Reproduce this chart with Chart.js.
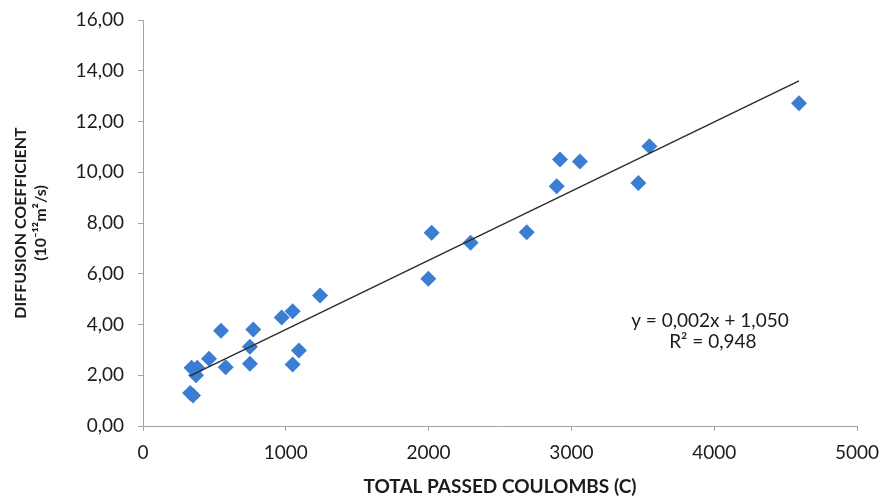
<!DOCTYPE html>
<html>
<head>
<meta charset="utf-8">
<script src="https://cdn.jsdelivr.net/npm/chart.js@4/dist/chart.umd.min.js"></script>
<style>
  html, body { margin: 0; padding: 0; background: #fff; }
  #wrap { width: 883px; height: 500px; position: relative; }
</style>
</head>
<body>
<div id="wrap"><canvas id="c" width="883" height="500"></canvas></div>
<script>
// Total passed charge (C) and measured diffusion coefficient (10^-12 m2/s)
const coulombs = [330, 350, 340, 380, 371, 462, 546, 579, 749, 749, 772, 971, 1048, 1048, 1092, 1240,
                  1998, 2021, 2294, 2687, 2897, 2920, 3060, 3469, 3546, 4594];
const diffusion = [1.30, 1.20, 2.30, 2.30, 2.00, 2.65, 3.75, 2.32, 3.12, 2.45, 3.80, 4.28, 4.52, 2.42, 2.98, 5.14,
                   5.80, 7.62, 7.22, 7.64, 9.45, 10.50, 10.42, 9.58, 11.02, 12.72];
const xTicks = [0, 1000, 2000, 3000, 4000, 5000];
const yTicks = [0, 2, 4, 6, 8, 10, 12, 14, 16];
const equationLines = ['y = 0,002x + 1,050', 'R² = 0,948'];

// least-squares line through the measurements
const n = coulombs.length;
const mx = coulombs.reduce((a, b) => a + b, 0) / n;
const my = diffusion.reduce((a, b) => a + b, 0) / n;
let sxy = 0, sxx = 0;
for (let i = 0; i < n; i++) { sxy += (coulombs[i] - mx) * (diffusion[i] - my); sxx += (coulombs[i] - mx) ** 2; }
const slope = sxy / sxx, icpt = my - slope * mx;
const xMin = Math.min(...coulombs), xMax = Math.max(...coulombs);
const trend = [{ x: xMin, y: icpt + slope * xMin }, { x: xMax, y: icpt + slope * xMax }];

const points = coulombs.map((x, i) => ({ x, y: diffusion[i] }));
const FONT = 'Lato, "Open Sans", sans-serif';
const INK = '#1c1c1c';
const AXIS = '#a3a3a3';

const equationLabel = {
  id: 'equationLabel',
  afterDatasetsDraw(chart) {
    const { ctx, chartArea: a } = chart;
    ctx.save();
    ctx.fillStyle = INK;
    ctx.font = '19px ' + FONT;
    ctx.textAlign = 'center';
    ctx.textBaseline = 'middle';
    const cx = a.left + (a.right - a.left) * 0.794;
    const cy = a.top + (a.bottom - a.top) * 0.74;
    ctx.fillText(equationLines[0], cx, cy);
    ctx.fillText(equationLines[1], cx + 3, cy + 21);
    ctx.restore();
  }
};

new Chart(document.getElementById('c'), {
  type: 'scatter',
  data: {
    datasets: [
      {
        data: points,
        pointStyle: 'rectRot',
        pointRadius: 8,
        pointHoverRadius: 8,
        backgroundColor: '#3b7dd2',
        borderColor: '#3b7dd2',
        borderWidth: 0,
        order: 2
      },
      {
        type: 'line',
        data: trend,
        borderColor: '#2b2b2b',
        borderWidth: 1.4,
        pointRadius: 0,
        fill: false,
        order: 1
      }
    ]
  },
  options: {
    responsive: false,
    animation: false,
    layout: { padding: { left: 8, right: 26, top: 20, bottom: 0 } },
    plugins: { legend: { display: false }, tooltip: { enabled: false } },
    scales: {
      x: {
        type: 'linear',
        min: 0, max: 5000,
        afterBuildTicks: s => { s.ticks = xTicks.map(v => ({ value: v })); },
        afterFit: s => { s.height = 74; s.paddingRight = 0; },
        ticks: {
          font: { family: FONT, size: 19 }, color: INK, padding: 10, maxRotation: 0,
          callback: v => String(v)
        },
        grid: { drawOnChartArea: false, tickLength: 5, color: AXIS },
        border: { display: true, color: AXIS, width: 1 },
        title: {
          display: true,
          text: 'TOTAL PASSED COULOMBS (C)',
          font: { family: FONT, size: 19, weight: 'bold' },
          color: INK,
          padding: { top: 0, bottom: 2 }
        }
      },
      y: {
        type: 'linear',
        min: 0, max: 16,
        afterBuildTicks: s => { s.ticks = yTicks.map(v => ({ value: v })); },
        afterFit: s => { s.width = 135; s.paddingTop = 0; },
        ticks: {
          font: { family: FONT, size: 19 }, color: INK, padding: 14,
          callback: v => v.toFixed(2).replace('.', ',')
        },
        grid: { drawOnChartArea: false, tickLength: 5, color: AXIS },
        border: { display: true, color: AXIS, width: 1 },
        title: {
          display: true,
          text: ['DIFFUSION COEFFICIENT', '(10⁻¹²m²/s)'],
          font: { family: FONT, size: 16, weight: 'bold', lineHeight: 1.3 },
          color: INK,
          padding: { top: 2, bottom: 0 }
        }
      }
    }
  },
  plugins: [equationLabel]
});
</script>
</body>
</html>
